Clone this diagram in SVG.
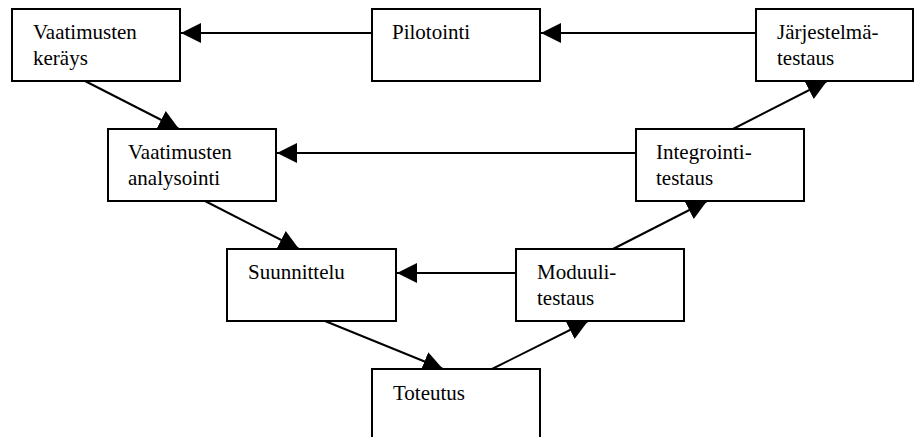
<svg xmlns="http://www.w3.org/2000/svg" width="914" height="437" viewBox="0 0 914 437">
<style>
.box{fill:#fff;stroke:#000;stroke-width:2}
.con{fill:none;stroke:#000;stroke-width:2;marker-end:url(#ah)}
.t{font-family:'Liberation Serif','Times New Roman',serif;font-size:21px;fill:#000}
</style>
<defs>
<marker id="ah" markerUnits="userSpaceOnUse" markerWidth="20" markerHeight="20" refX="20" refY="10" orient="auto">
<path d="M0,0 L20,10 L0,20 z" fill="#000"/>
</marker>
</defs>
<rect width="914" height="437" fill="#fff"/>
<g id="connectors">
<line class="con" x1="756" y1="33" x2="541" y2="33"/>
<line class="con" x1="372" y1="33" x2="181" y2="33"/>
<line class="con" x1="636" y1="153" x2="277" y2="153"/>
<line class="con" x1="516" y1="273" x2="397" y2="273"/>
<line class="con" x1="85" y1="81" x2="179" y2="129"/>
<line class="con" x1="205" y1="201" x2="299" y2="249"/>
<line class="con" x1="325" y1="321" x2="443" y2="369"/>
<line class="con" x1="492" y1="369" x2="588" y2="321"/>
<line class="con" x1="613" y1="249" x2="707" y2="201"/>
<line class="con" x1="733" y1="129" x2="827" y2="81"/>
</g>
<g id="n-kerays">
<rect class="box" x="12" y="9" width="168" height="72"/>
<text class="t" x="33" y="39">Vaatimusten</text>
<text class="t" x="33" y="65">keräys</text>
</g>
<g id="n-pilotointi">
<rect class="box" x="372" y="9" width="168" height="72"/>
<text class="t" x="392" y="39">Pilotointi</text>
</g>
<g id="n-jarjestelma">
<rect class="box" x="756" y="9" width="157" height="72"/>
<text class="t" x="777" y="39">Järjestelmä-</text>
<text class="t" x="777" y="65">testaus</text>
</g>
<g id="n-analysointi">
<rect class="box" x="108" y="129" width="168" height="72"/>
<text class="t" x="128" y="159">Vaatimusten</text>
<text class="t" x="128" y="185">analysointi</text>
</g>
<g id="n-integrointi">
<rect class="box" x="636" y="129" width="168" height="72"/>
<text class="t" x="656" y="159">Integrointi-</text>
<text class="t" x="656" y="185">testaus</text>
</g>
<g id="n-suunnittelu">
<rect class="box" x="227" y="249" width="169" height="72"/>
<text class="t" x="248" y="279">Suunnittelu</text>
</g>
<g id="n-moduuli">
<rect class="box" x="516" y="249" width="168" height="72"/>
<text class="t" x="537" y="279">Moduuli-</text>
<text class="t" x="537" y="305">testaus</text>
</g>
<g id="n-toteutus">
<rect class="box" x="372" y="369" width="168" height="80"/>
<text class="t" x="393" y="400">Toteutus</text>
</g>
</svg>
